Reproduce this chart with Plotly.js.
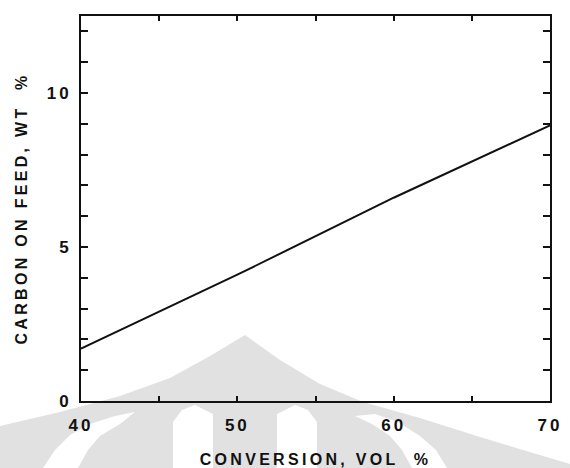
<!DOCTYPE html>
<html>
<head>
<meta charset="utf-8">
<script src="https://cdn.plot.ly/plotly-3.0.1.min.js"></script>
<style>
  html, body { margin: 0; padding: 0; background: #fff; }
  #chart { width: 570px; height: 468px; }
  .xtick text, .ytick text { letter-spacing: 3px; }
  .g-xtitle text, .g-ytitle text { letter-spacing: 3.3px; }
</style>
</head>
<body>
<div id="chart"></div>
<script>
// Data
const conversionVol = [40, 50, 60, 70];
const carbonOnFeedWt = [1.7, 4.1, 6.6, 8.95];
const xTickVals = [40, 50, 60, 70];
const xTickText = ['40', '50', '60', '70'];
const yTickVals = [0, 5, 10];
const yTickText = ['0', '5', '10'];

const W = 570, H = 468;
const M = { l: 81, r: 20, t: 16, b: 67 };
const PW = W - M.l - M.r, PH = H - M.t - M.b;
function pp(pts) {
  return 'M' + pts.map(p => ((p[0] - M.l) / PW).toFixed(4) + ',' + ((H - M.b - p[1]) / PH).toFixed(4)).join('L') + 'Z';
}
const grey = '#e1e1e1';
// faint background watermark (decoration only)
const wm = [
  { pts: [[0,426],[60,412],[120,396],[170,378],[210,356],[245,335],[280,360],[320,384],[363,402],[420,418],[480,437],[570,464],[570,468],[0,468]], c: grey },
  { pts: [[43,468],[55,450],[70,435],[90,424],[115,416],[135,412],[120,424],[100,436],[88,450],[78,468]], c: '#ffffff' },
  { pts: [[173,468],[173,422],[182,410],[195,405],[213,414],[213,468]], c: '#ffffff' },
  { pts: [[277,468],[277,414],[295,405],[308,410],[317,422],[317,468]], c: '#ffffff' },
  { pts: [[412,468],[402,450],[390,436],[372,424],[355,416],[375,414],[398,422],[420,436],[436,450],[447,468]], c: '#ffffff' }
];
const shapes = wm.map(s => ({
  type: 'path', xref: 'paper', yref: 'paper', layer: 'below',
  path: pp(s.pts), fillcolor: s.c, line: { width: 0 }
}));

const fontFam = '"Liberation Sans", Arial, sans-serif';

const trace = {
  x: conversionVol,
  y: carbonOnFeedWt,
  type: 'scatter',
  mode: 'lines',
  line: { color: '#111111', width: 2 },
  hoverinfo: 'skip'
};

const layout = {
  width: W, height: H,
  margin: M,
  paper_bgcolor: '#ffffff',
  plot_bgcolor: 'rgba(0,0,0,0)',
  showlegend: false,
  shapes: shapes,
  xaxis: {
    range: [40, 70],
    tickmode: 'array', tickvals: xTickVals, ticktext: xTickText,
    ticks: 'inside', ticklen: 5, tickwidth: 2, tickcolor: '#111',
    minor: { dtick: 5, tick0: 40, ticks: 'inside', ticklen: 5, tickwidth: 2, tickcolor: '#111' },
    showline: true, linewidth: 2, linecolor: '#111', mirror: 'ticks',
    showgrid: false, zeroline: false,
    ticklabelstandoff: 8,
    tickfont: { family: fontFam, size: 17, color: '#111', weight: 700 },
    title: { text: 'CONVERSION, VOL  %', standoff: 20,
             font: { family: fontFam, size: 16, color: '#111', weight: 700 } },
    automargin: false
  },
  yaxis: {
    range: [0, 12.5],
    tickmode: 'array', tickvals: yTickVals, ticktext: yTickText,
    ticks: 'inside', ticklen: 7, tickwidth: 2, tickcolor: '#111',
    minor: { dtick: 1, tick0: 0, ticks: 'inside', ticklen: 7, tickwidth: 2, tickcolor: '#111' },
    showline: true, linewidth: 2, linecolor: '#111', mirror: 'ticks',
    showgrid: false, zeroline: false,
    ticklabelstandoff: 4,
    tickfont: { family: fontFam, size: 17, color: '#111', weight: 700 },
    title: { text: 'CARBON ON FEED, WT  %', standoff: 15,
             font: { family: fontFam, size: 16, color: '#111', weight: 700 } },
    automargin: false
  }
};

Plotly.newPlot('chart', [trace], layout, { staticPlot: true, displayModeBar: false });
</script>
</body>
</html>
